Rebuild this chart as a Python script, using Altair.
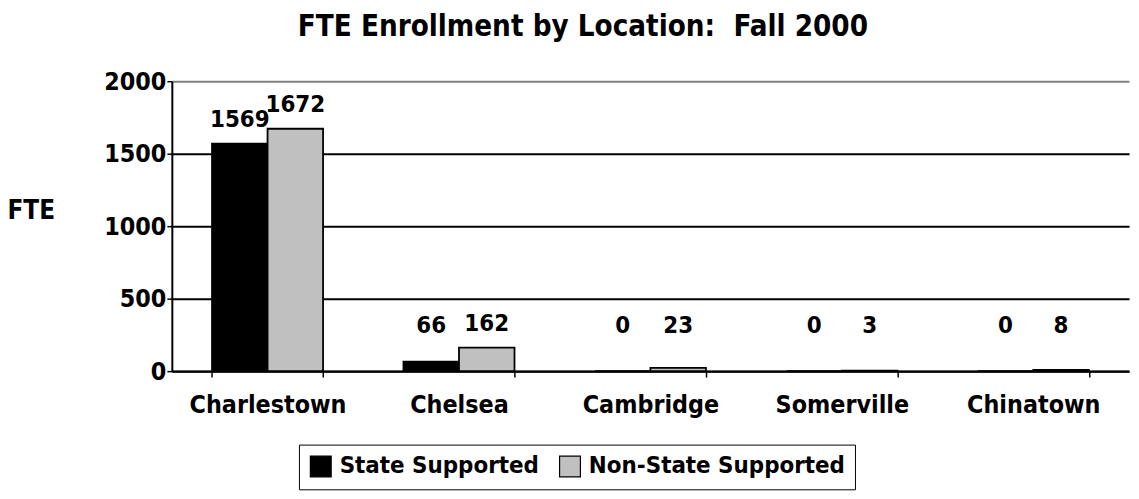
import altair as alt
import pandas as pd

locations = ["Charlestown", "Chelsea", "Cambridge", "Somerville", "Chinatown"]
state_supported = [1569, 66, 0, 0, 0]
non_state_supported = [1672, 162, 23, 3, 8]
series = ["State Supported", "Non-State Supported"]
colors = ["#000000", "#c0c0c0"]
y_ticks = [0, 500, 1000, 1500, 2000]

rows = []
for i, loc in enumerate(locations):
    rows.append({"loc": loc, "series": series[0], "value": state_supported[i]})
    rows.append({"loc": loc, "series": series[1], "value": non_state_supported[i]})
df = pd.DataFrame(rows)

FONT = "DejaVu Sans Condensed"
FS = 25

x_enc = alt.X("loc:N", sort=locations, title=None,
              scale=alt.Scale(paddingInner=0.42, paddingOuter=0.21),
              axis=alt.Axis(labelAngle=0, labelFontSize=FS, labelFontWeight="bold",
                            labelFont=FONT, labelColor="black", labelPadding=16,
                            tickBand="extent", tickSize=6, tickColor="black", tickWidth=1.5,
                            domainColor="black", domainWidth=2.5, grid=False))
xo = alt.XOffset("series:N", sort=series)

bars = alt.Chart(df).mark_bar(stroke="black", strokeWidth=1.8).encode(
    x=x_enc,
    xOffset=xo,
    y=alt.Y("value:Q", scale=alt.Scale(domain=[0, 2000]),
            axis=alt.Axis(values=y_ticks, format="d", title="FTE", titleAngle=0,
                          titleX=-166, titleY=130,
                          titleAlign="left", titleBaseline="middle", titleFontSize=26,
                          titleFont=FONT, titleFontWeight="bold", titleColor="black",
                          labelFontSize=FS, labelFontWeight="bold", labelFont=FONT,
                          labelColor="black", labelPadding=1,
                          tickSize=5, tickColor="black", tickWidth=1.5,
                          domainColor="black", domainWidth=2,
                          gridColor={"condition": {"test": "datum.value === 2000",
                                                   "value": "#808080"},
                                     "value": "black"},
                          gridWidth=2)),
    color=alt.Color("series:N", sort=series,
                    scale=alt.Scale(domain=series, range=colors),
                    legend=alt.Legend(title=None, orient="none", legendX=128, legendY=366,
                                      direction="horizontal", columns=2,
                                      strokeColor="black", padding=10, fillColor="white",
                                      symbolType="square", symbolSize=440,
                                      symbolStrokeColor="black", symbolStrokeWidth=1.2,
                                      labelFontSize=24, labelFontWeight="bold",
                                      labelFont=FONT, labelColor="black", labelLimit=500,
                                      columnPadding=18, labelOffset=7)),
)

labels = alt.Chart(df).transform_calculate(
    ly="max(datum.value, 150)"
).mark_text(fontSize=24, fontWeight="bold", font=FONT, color="black",
            baseline="bottom", dy=-12).encode(
    x=alt.X("loc:N", sort=locations),
    xOffset=xo,
    y=alt.Y("ly:Q"),
    text=alt.Text("value:Q"),
)

chart = alt.layer(bars, labels).properties(
    width=964, height=292,
    autosize=alt.AutoSizeParams(type="none"),
    padding={"left": 165, "top": 72, "right": 2, "bottom": 119},
    title=alt.TitleParams("FTE Enrollment by Location:\u00a0 Fall 2000", fontSize=29.5,
                          fontWeight="bold", font=FONT, color="black",
                          anchor="middle", dx=-68, offset=27),
).configure_view(stroke=None).configure_axisY(grid=True)

chart.save("out.html", embed_options={"renderer": "svg", "actions": False})
